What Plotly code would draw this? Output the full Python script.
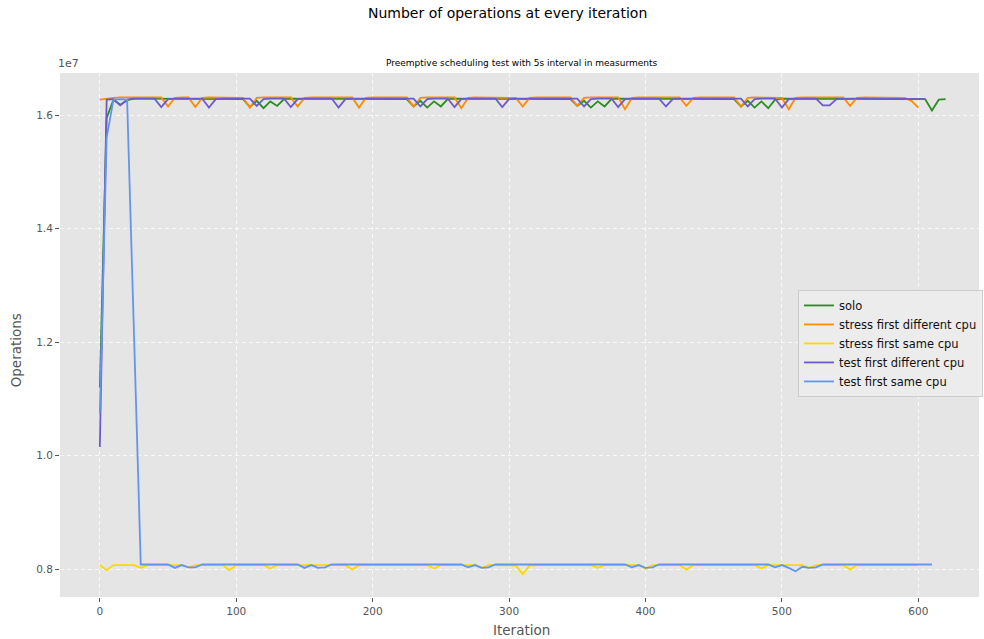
import plotly.graph_objects as go

# values in millions of operations, sampled every 5 iterations
step = 5

solo = [
    11.20, 15.95, 16.27, 16.18, 16.26, 16.29, 16.29, 16.29, 16.29, 16.29,
    16.29, 16.29, 16.29, 16.29, 16.29, 16.29, 16.29, 16.29, 16.29, 16.29,
    16.29, 16.28, 16.14, 16.25, 16.12, 16.24, 16.16, 16.28, 16.29, 16.29,
    16.29, 16.29, 16.29, 16.29, 16.29, 16.29, 16.29, 16.29, 16.29, 16.29,
    16.29, 16.29, 16.29, 16.29, 16.29, 16.28, 16.15, 16.25, 16.13, 16.24,
    16.15, 16.28, 16.29, 16.29, 16.29, 16.29, 16.29, 16.29, 16.29, 16.29,
    16.29, 16.29, 16.29, 16.29, 16.29, 16.29, 16.29, 16.29, 16.29, 16.28,
    16.16, 16.25, 16.13, 16.24, 16.15, 16.28, 16.29, 16.29, 16.29, 16.29,
    16.29, 16.29, 16.29, 16.29, 16.29, 16.29, 16.29, 16.29, 16.29, 16.29,
    16.29, 16.29, 16.29, 16.28, 16.15, 16.25, 16.13, 16.24, 16.12, 16.27,
    16.29, 16.29, 16.29, 16.29, 16.29, 16.29, 16.29, 16.29, 16.29, 16.29,
    16.29, 16.29, 16.29, 16.29, 16.29, 16.29, 16.29, 16.29, 16.29, 16.29,
    16.29, 16.28, 16.08, 16.27, 16.28,
]

stress_first_different = [
    16.27, 16.29, 16.30, 16.31, 16.31, 16.31, 16.31, 16.31, 16.31, 16.31,
    16.15, 16.30, 16.31, 16.31, 16.14, 16.30, 16.31, 16.31, 16.31, 16.31,
    16.31, 16.30, 16.13, 16.30, 16.31, 16.31, 16.31, 16.31, 16.31, 16.15,
    16.30, 16.31, 16.31, 16.31, 16.31, 16.31, 16.31, 16.31, 16.13, 16.30,
    16.31, 16.31, 16.31, 16.31, 16.31, 16.31, 16.15, 16.30, 16.31, 16.31,
    16.31, 16.31, 16.31, 16.12, 16.30, 16.31, 16.31, 16.31, 16.31, 16.31,
    16.31, 16.30, 16.15, 16.30, 16.31, 16.31, 16.31, 16.31, 16.31, 16.31,
    16.16, 16.30, 16.31, 16.31, 16.31, 16.31, 16.31, 16.10, 16.30, 16.31,
    16.31, 16.31, 16.31, 16.31, 16.31, 16.31, 16.16, 16.30, 16.31, 16.31,
    16.31, 16.31, 16.31, 16.31, 16.15, 16.30, 16.31, 16.31, 16.31, 16.31,
    16.30, 16.10, 16.30, 16.31, 16.31, 16.31, 16.31, 16.31, 16.31, 16.31,
    16.16, 16.30, 16.31, 16.31, 16.31, 16.31, 16.31, 16.31, 16.30, 16.25,
    16.13,
]

stress_first_same = [
    8.07, 7.98, 8.07, 8.07, 8.07, 8.07, 8.02, 8.07, 8.07, 8.07,
    8.07, 8.07, 8.07, 8.03, 8.07, 8.07, 8.07, 8.07, 8.07, 7.98,
    8.07, 8.07, 8.07, 8.07, 8.07, 8.01, 8.07, 8.07, 8.07, 8.07,
    8.07, 8.07, 8.07, 8.07, 8.07, 8.07, 8.07, 7.99, 8.07, 8.07,
    8.07, 8.07, 8.07, 8.07, 8.07, 8.07, 8.07, 8.07, 8.07, 8.01,
    8.07, 8.07, 8.07, 8.07, 8.07, 8.07, 8.02, 8.07, 8.07, 8.07,
    8.07, 8.06, 7.91, 8.06, 8.07, 8.07, 8.07, 8.07, 8.07, 8.07,
    8.07, 8.07, 8.07, 8.02, 8.07, 8.07, 8.07, 8.07, 8.07, 8.07,
    8.00, 8.07, 8.07, 8.07, 8.07, 8.07, 7.99, 8.07, 8.07, 8.07,
    8.07, 8.07, 8.07, 8.07, 8.07, 8.07, 8.07, 8.01, 8.07, 8.07,
    8.07, 8.07, 8.07, 8.07, 8.02, 8.07, 8.07, 8.07, 8.07, 8.07,
    7.99, 8.07, 8.07, 8.07, 8.07, 8.07, 8.07, 8.07, 8.07, 8.07,
    8.07,
]

test_first_different = [
    10.15, 16.27, 16.28, 16.17, 16.27, 16.29, 16.29, 16.29, 16.29, 16.14,
    16.28, 16.29, 16.29, 16.29, 16.29, 16.29, 16.13, 16.28, 16.29, 16.29,
    16.29, 16.29, 16.29, 16.16, 16.28, 16.29, 16.29, 16.29, 16.14, 16.28,
    16.29, 16.29, 16.29, 16.29, 16.29, 16.13, 16.28, 16.29, 16.29, 16.29,
    16.29, 16.29, 16.29, 16.29, 16.29, 16.29, 16.29, 16.15, 16.28, 16.29,
    16.29, 16.29, 16.14, 16.28, 16.29, 16.29, 16.29, 16.29, 16.29, 16.14,
    16.28, 16.29, 16.29, 16.29, 16.29, 16.29, 16.29, 16.29, 16.29, 16.29,
    16.29, 16.15, 16.28, 16.29, 16.29, 16.29, 16.14, 16.28, 16.29, 16.29,
    16.29, 16.29, 16.29, 16.15, 16.28, 16.29, 16.29, 16.29, 16.29, 16.29,
    16.29, 16.29, 16.29, 16.29, 16.29, 16.15, 16.28, 16.29, 16.29, 16.29,
    16.13, 16.28, 16.29, 16.29, 16.29, 16.29, 16.17, 16.17, 16.28, 16.29,
    16.29, 16.29, 16.29, 16.29, 16.29, 16.29, 16.29, 16.29, 16.29, 16.29,
    16.29, 16.28,
]

test_first_same = [
    10.75, 15.60, 16.27, 16.28, 16.27, 12.20, 8.08, 8.08, 8.08, 8.08,
    8.08, 8.02, 8.07, 8.03, 8.03, 8.08, 8.08, 8.08, 8.08, 8.08,
    8.08, 8.08, 8.08, 8.08, 8.08, 8.08, 8.08, 8.08, 8.08, 8.08,
    8.02, 8.07, 8.02, 8.03, 8.08, 8.08, 8.08, 8.08, 8.08, 8.08,
    8.08, 8.08, 8.08, 8.08, 8.08, 8.08, 8.08, 8.08, 8.08, 8.08,
    8.08, 8.08, 8.08, 8.08, 8.03, 8.07, 8.02, 8.03, 8.08, 8.08,
    8.08, 8.08, 8.08, 8.08, 8.08, 8.08, 8.08, 8.08, 8.08, 8.08,
    8.08, 8.08, 8.08, 8.08, 8.08, 8.08, 8.08, 8.08, 8.03, 8.07,
    8.02, 8.03, 8.08, 8.08, 8.08, 8.08, 8.08, 8.08, 8.08, 8.08,
    8.08, 8.08, 8.08, 8.08, 8.08, 8.08, 8.08, 8.08, 8.08, 8.03,
    8.07, 8.02, 7.96, 8.04, 8.02, 8.03, 8.08, 8.08, 8.08, 8.08,
    8.08, 8.08, 8.08, 8.08, 8.08, 8.08, 8.08, 8.08, 8.08, 8.08,
    8.08, 8.09, 8.08,
]

series_names = ["solo", "stress first different cpu", "stress first same cpu",
                "test first different cpu", "test first same cpu"]
series_values = [solo, stress_first_different, stress_first_same,
                 test_first_different, test_first_same]
series_colors = ["#2a8c22", "#ff8c00", "#ffd700", "#6a5acd", "#6495ed"]

y_tickvals = [8e6, 10e6, 12e6, 14e6, 16e6]
y_ticktext = ["0.8", "1.0", "1.2", "1.4", "1.6"]
x_tickvals = [0, 100, 200, 300, 400, 500, 600]

FONT = "DejaVu Sans"
fig = go.Figure()
for name, vals, col in zip(series_names, series_values, series_colors):
    fig.add_trace(go.Scatter(
        x=[i * step for i in range(len(vals))],
        y=[v * 1e6 for v in vals],
        mode="lines", name=name,
        line=dict(color=col, width=1.8),
    ))

grid_style = dict(showgrid=True, gridcolor="rgba(255,255,255,0.75)",
                  griddash="4px,3px", gridwidth=0.8)

fig.update_layout(
    width=984, height=639,
    margin=dict(l=60, r=1, t=73, b=42),
    paper_bgcolor="white", plot_bgcolor="#e5e5e5",
    font=dict(family=FONT, color="#555555", size=10),
    showlegend=True,
    legend=dict(x=0.803, y=0.586, xanchor="left", yanchor="top",
                bgcolor="rgba(236,236,236,0.9)", bordercolor="#cccccc",
                borderwidth=1, font=dict(size=11.5, color="#111111", family=FONT),
                tracegroupgap=0, itemwidth=30),
    xaxis=dict(range=[-29.2, 644.5], tickvals=x_tickvals, ticks="outside",
               ticklen=4, tickcolor="#555555", zeroline=False, showline=False,
               tickfont=dict(size=10.5), **grid_style),
    yaxis=dict(range=[7.507e6, 16.74e6], tickvals=y_tickvals, ticktext=y_ticktext,
               ticks="outside", ticklen=4, tickcolor="#555555", zeroline=False,
               showline=False, tickfont=dict(size=10.5), **grid_style),
    annotations=[
        dict(text="Number of operations at every iteration", xref="paper", yref="paper",
             x=0.4865, y=1.1145, xanchor="center", yanchor="middle", showarrow=False,
             font=dict(size=14, color="#000000", family=FONT)),
        dict(text="Preemptive scheduling test with 5s interval in measurments",
             xref="paper", yref="paper", x=0.5027, y=1.019, xanchor="center",
             yanchor="middle", showarrow=False,
             font=dict(size=9, color="#000000", family=FONT)),
        dict(text="1e7", xref="paper", yref="paper", x=-0.004, y=1.0,
             xanchor="left", yanchor="bottom", yshift=1, showarrow=False,
             font=dict(size=11, color="#555555", family=FONT)),
        dict(text="Iteration", xref="paper", yref="paper", x=0.5027, y=-0.063,
             xanchor="center", yanchor="middle", showarrow=False,
             font=dict(size=13.5, color="#555555", family=FONT)),
        dict(text="Operations", xref="paper", yref="paper", x=-0.0477, y=0.471,
             xanchor="center", yanchor="middle", showarrow=False, textangle=-90,
             font=dict(size=13.5, color="#555555", family=FONT)),
    ],
)

fig.write_html("out.html")
